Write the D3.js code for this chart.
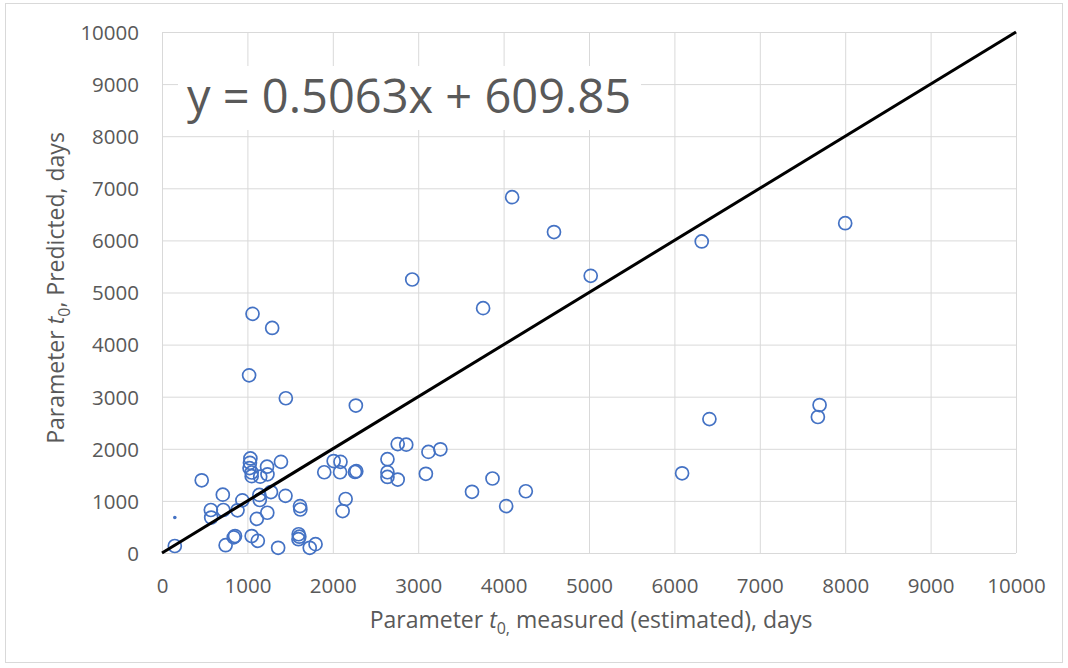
<!DOCTYPE html>
<html>
<head>
<meta charset="utf-8">
<script src="https://cdn.jsdelivr.net/npm/d3@7"></script>
<style>
  body { margin: 0; background: #fff; }
  text { font-family: "Open Sans", sans-serif; fill: #595959; }
</style>
</head>
<body>
<svg id="chart" width="1068" height="668"></svg>
<script>
// measured (estimated) t0, days
const measured = [
  4100, 4590, 5020, 2930, 3760, 6320, 8000, 1060, 1290, 1020,
  1450, 2270, 7700, 7680, 6410, 6090, 2760, 2860, 3260, 3120,
  2640, 2640, 2640, 2760, 3090, 3630, 3870, 4030, 4260, 2010,
  2090, 1900, 2085, 2260, 2275, 2150, 2115, 1035, 1030, 1025,
  1050, 1050, 1150, 1230, 1235, 1393, 465, 712, 572, 576,
  718, 884, 941, 1140, 1145, 1276, 1446, 1110, 1233, 1616,
  1620, 745, 840, 855, 1050, 1122, 1360, 1600, 1608, 1598,
  1730, 1798, 150
];
// predicted t0, days
const predicted = [
  6830, 6160, 5320, 5250, 4700, 5980, 6330, 4590, 4320, 3410,
  2970, 2830, 2840, 2610, 2570, 1530, 2090, 2080, 1990, 1940,
  1800, 1550, 1460, 1410, 1520, 1175, 1430, 900, 1185, 1765,
  1750, 1550, 1550, 1555, 1570, 1036, 805, 1815, 1730, 1630,
  1545, 1475, 1465, 1656, 1510, 1750, 1395, 1120, 825, 680,
  825, 820, 1011, 1115, 1017, 1170, 1097, 655, 773, 900,
  835, 150, 300, 325, 325, 233, 100, 360, 313, 265,
  100, 170, 134
];
// the one tiny marker near the left edge
const extraX = [150];
const extraY = [680];

const xTicks = [0, 1000, 2000, 3000, 4000, 5000, 6000, 7000, 8000, 9000, 10000];
const yTicks = [0, 1000, 2000, 3000, 4000, 5000, 6000, 7000, 8000, 9000, 10000];
const refLine = [[0, 0], [10000, 10000]];
const equation = "y = 0.5063x + 609.85";

const svg = d3.select("#chart");
const margin = { top: 32, right: 52, bottom: 115, left: 162 };
const width = 1068 - margin.left - margin.right;
const height = 668 - margin.top - margin.bottom;

// outer chart border
svg.append("rect")
  .attr("x", 5.5).attr("y", 3.5)
  .attr("width", 1057).attr("height", 659)
  .attr("fill", "#fff")
  .attr("stroke", "#d9d9d9");

const g = svg.append("g")
  .attr("transform", "translate(" + margin.left + "," + margin.top + ")");

const x = d3.scaleLinear().domain([0, 10000]).range([0, width]);
const y = d3.scaleLinear().domain([0, 10000]).range([height, 0]);

const xAxis = g.append("g")
  .attr("transform", "translate(0," + height + ")")
  .call(d3.axisBottom(x).tickValues(xTicks).tickFormat(d3.format("d"))
    .tickSizeInner(-height).tickSizeOuter(0).tickPadding(25));
const yAxis = g.append("g")
  .call(d3.axisLeft(y).tickValues(yTicks).tickFormat(d3.format("d"))
    .tickSizeInner(-width).tickSizeOuter(0).tickPadding(23));

[xAxis, yAxis].forEach(a => {
  a.select(".domain").remove();
  a.selectAll("line").attr("stroke", "#d9d9d9").attr("stroke-width", 1);
  a.selectAll("text").style("font-size", "20.5px").attr("fill", "#595959");
});
yAxis.selectAll("text").attr("dy", "0.36em");

// trendline label (white box over the gridlines)
svg.append("rect")
  .attr("x", 178).attr("y", 66)
  .attr("width", 463).attr("height", 64)
  .attr("fill", "#fff");
svg.append("text")
  .attr("x", 187).attr("y", 113)
  .style("font-size", "47px")
  .text(equation);

// points
g.selectAll(".pt")
  .data(measured.map((m, i) => [m, predicted[i]]))
  .enter().append("circle")
  .attr("class", "pt")
  .attr("cx", d => x(d[0]))
  .attr("cy", d => y(d[1]))
  .attr("r", 6.5)
  .attr("fill", "none")
  .attr("stroke", "#4472c4")
  .attr("stroke-width", 1.7);

g.selectAll(".dot")
  .data(extraX.map((m, i) => [m, extraY[i]]))
  .enter().append("circle")
  .attr("class", "dot")
  .attr("cx", d => x(d[0]))
  .attr("cy", d => y(d[1]))
  .attr("r", 1.8)
  .attr("fill", "#4472c4");

// y = x reference line
g.append("path")
  .datum(refLine)
  .attr("d", d3.line().x(d => x(d[0])).y(d => y(d[1])))
  .attr("stroke", "#000")
  .attr("stroke-width", 3)
  .attr("fill", "none");

// axis titles
const xt = svg.append("text")
  .attr("x", 591).attr("y", 628)
  .attr("text-anchor", "middle")
  .style("font-size", "23px");
xt.append("tspan").text("Parameter ");
xt.append("tspan").style("font-style", "italic").text("t");
xt.append("tspan").attr("dy", 6).style("font-size", "16px").text("0,");
xt.append("tspan").attr("dy", -6).text(" measured (estimated), days");

const yt = svg.append("text")
  .attr("transform", "translate(64,288) rotate(-90)")
  .attr("text-anchor", "middle")
  .style("font-size", "23px");
yt.append("tspan").text("Parameter ");
yt.append("tspan").style("font-style", "italic").text("t");
yt.append("tspan").attr("dy", 6).style("font-size", "16px").text("0");
yt.append("tspan").attr("dy", -6).text(", Predicted, days");
</script>
</body>
</html>
